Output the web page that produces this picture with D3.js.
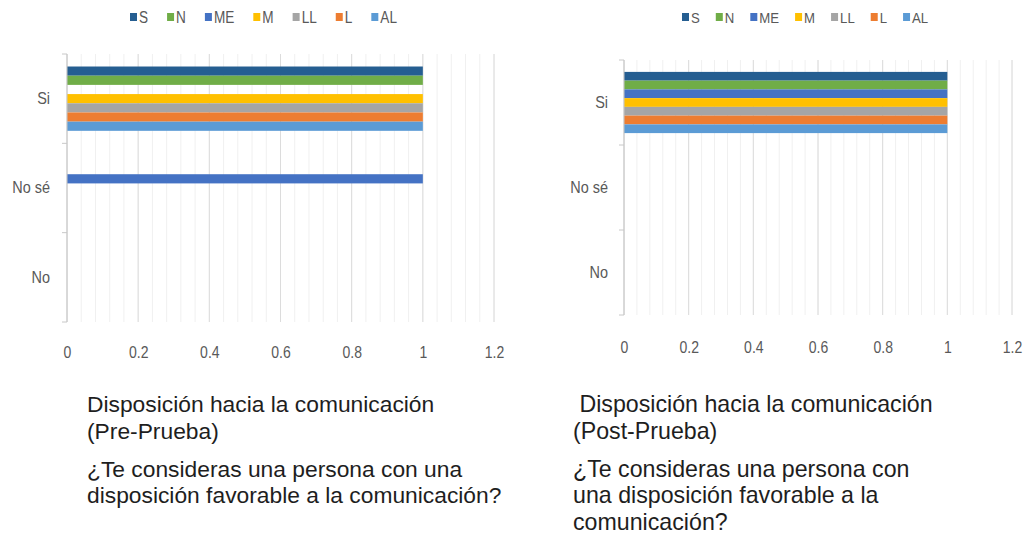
<!DOCTYPE html>
<html>
<head>
<meta charset="utf-8">
<script src="https://cdn.jsdelivr.net/npm/d3@7"></script>
<style>
  html, body { margin: 0; padding: 0; background: #ffffff; }
  svg { display: block; }
</style>
</head>
<body>
<svg id="chart" width="1026" height="535"></svg>
<script>
// Answer categories (top to bottom) and the seven groups
const categories = ["Si", "No sé", "No"];
const seriesNames = ["S", "N", "ME", "M", "LL", "L", "AL"];
const seriesColors = ["#255e91", "#70ad47", "#4472c4", "#ffc000", "#a5a5a5", "#ed7d31", "#5b9bd5"];

// Values per group, in category order [Si, No sé, No]
const preS  = [1, 0, 0];
const preN  = [1, 0, 0];
const preME = [0, 1, 0];
const preM  = [1, 0, 0];
const preLL = [1, 0, 0];
const preL  = [1, 0, 0];
const preAL = [1, 0, 0];

const postS  = [1, 0, 0];
const postN  = [1, 0, 0];
const postME = [1, 0, 0];
const postM  = [1, 0, 0];
const postLL = [1, 0, 0];
const postL  = [1, 0, 0];
const postAL = [1, 0, 0];

const xTicks = [0, 0.2, 0.4, 0.6, 0.8, 1, 1.2];
const xTickLabels = ["0", "0.2", "0.4", "0.6", "0.8", "1", "1.2"];

const preCaption = [
  "Disposición hacia la comunicación",
  "(Pre-Prueba)",
  "¿Te consideras una persona con una",
  "disposición favorable a la comunicación?"
];
const postCaption = [
  " Disposición hacia la comunicación",
  "(Post-Prueba)",
  "¿Te consideras una persona con",
  "una disposición favorable a la",
  "comunicación?"
];

const preSeries = [preS, preN, preME, preM, preLL, preL, preAL];
const postSeries = [postS, postN, postME, postM, postLL, postL, postAL];

const svg = d3.select("#chart");
const chartFont = "'Liberation Sans', Arial, sans-serif";
const captionFont = "'Liberation Sans', Arial, sans-serif";
const axisColor = "#595959";
const condense = 0.85;

// squeeze chart labels horizontally for a narrow, Calibri-like look
function condenseText(sel) {
  sel.each(function () {
    const w = this.getComputedTextLength();
    d3.select(this)
      .attr("textLength", w * condense)
      .attr("lengthAdjust", "spacingAndGlyphs");
  });
}

function drawPanel(cfg, seriesValues, captionLines) {
  const g = svg.append("g");

  const x = d3.scaleLinear().domain([0, 1.2]).range([cfg.left, cfg.right]);
  const y = d3.scaleBand().domain(categories).range([cfg.top, cfg.bottom]);
  const bw = y.bandwidth();
  const y1 = d3.scaleBand().domain(seriesNames).range([bw * 0.14, bw * 0.86]);

  // minor gridlines every 0.04
  const minor = d3.range(0, 31).map(i => i * 0.04);
  g.append("g").selectAll("line").data(minor).join("line")
    .attr("x1", d => x(d)).attr("x2", d => x(d))
    .attr("y1", cfg.top).attr("y2", cfg.bottom)
    .attr("stroke", "#f0f0f0").attr("stroke-width", 1);

  // major gridlines
  g.append("g").selectAll("line").data(xTicks).join("line")
    .attr("x1", d => x(d)).attr("x2", d => x(d))
    .attr("y1", cfg.top).attr("y2", cfg.bottom)
    .attr("stroke", "#dcdcdc").attr("stroke-width", 1);

  // bars
  seriesNames.forEach((name, i) => {
    g.append("g").selectAll("rect")
      .data(categories.map((c, j) => ({ c, v: seriesValues[i][j] })))
      .join("rect")
      .attr("x", x(0))
      .attr("y", d => y(d.c) + y1(name))
      .attr("width", d => x(d.v) - x(0))
      .attr("height", y1.bandwidth())
      .attr("fill", seriesColors[i]);
  });

  // category axis line with boundary ticks
  const boundaries = categories.map(c => y(c)).concat([cfg.bottom]);
  g.append("line")
    .attr("x1", x(0)).attr("x2", x(0))
    .attr("y1", cfg.top).attr("y2", cfg.bottom)
    .attr("stroke", "#c8c8c8").attr("stroke-width", 1);
  g.append("g").selectAll("line").data(boundaries).join("line")
    .attr("x1", x(0) - 5).attr("x2", x(0))
    .attr("y1", d => d).attr("y2", d => d)
    .attr("stroke", "#c8c8c8").attr("stroke-width", 1);

  // category labels
  const yAxis = d3.axisLeft(y).tickSize(0).tickPadding(cfg.catPad);
  const ya = g.append("g").attr("transform", `translate(${x(0)},0)`).call(yAxis);
  ya.select(".domain").remove();
  ya.selectAll("text")
    .attr("font-family", chartFont).attr("font-size", 17).attr("fill", axisColor)
    .call(condenseText);

  // value axis labels
  const xAxis = d3.axisBottom(x).tickValues(xTicks).tickSize(0)
    .tickFormat((d, i) => xTickLabels[i]);
  const xa = g.append("g").attr("transform", `translate(0,${cfg.bottom + cfg.tickGap})`).call(xAxis);
  xa.select(".domain").remove();
  xa.selectAll("text")
    .attr("font-family", chartFont).attr("font-size", 16.5).attr("fill", axisColor)
    .call(condenseText);

  // legend
  const lg = g.append("g").attr("transform", `translate(${cfg.legendX},${cfg.legendY})`);
  let cursor = 0;
  seriesNames.forEach((name, i) => {
    lg.append("rect")
      .attr("x", cursor).attr("y", -4)
      .attr("width", 7).attr("height", 8)
      .attr("fill", seriesColors[i]);
    const t = lg.append("text")
      .attr("x", cursor + 9).attr("y", 0).attr("dy", "0.36em")
      .attr("font-family", chartFont).attr("font-size", cfg.legendFont)
      .attr("fill", axisColor)
      .text(name)
      .call(condenseText);
    cursor += 9 + t.node().getComputedTextLength() + cfg.legendGap;
  });

  // caption below the chart
  const cap = g.append("g");
  captionLines.forEach((line, i) => {
    cap.append("text")
      .attr("x", cfg.captionX)
      .attr("y", cfg.captionY[i])
      .style("white-space", "pre")
      .attr("font-family", captionFont)
      .attr("font-size", cfg.captionFont)
      .attr("fill", "#1e1e1e")
      .text(line);
  });
}

drawPanel({
  left: 67, right: 494, top: 54, bottom: 322,
  catPad: 17, tickGap: 21,
  legendX: 130, legendY: 17, legendFont: 16, legendGap: 19,
  captionX: 87, captionY: [412, 439, 477, 503], captionFont: 22.8
}, preSeries, preCaption);

drawPanel({
  left: 624, right: 1012, top: 60, bottom: 315,
  catPad: 16, tickGap: 23,
  legendX: 682, legendY: 17, legendFont: 15.5, legendGap: 16,
  captionX: 573, captionY: [412, 439, 477, 503, 530], captionFont: 23.2
}, postSeries, postCaption);
</script>
</body>
</html>
